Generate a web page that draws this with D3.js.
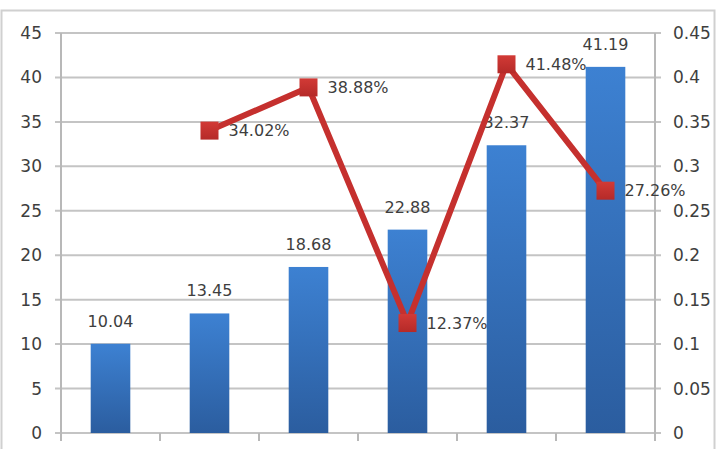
<!DOCTYPE html>
<html>
<head>
<meta charset="utf-8">
<script src="https://cdn.jsdelivr.net/npm/d3@7"></script>
<style>
  html, body { margin: 0; padding: 0; background: #fff; }
  svg { display: block; }
</style>
</head>
<body>
<svg id="chart" width="720" height="449"></svg>
<script>
// Data
const categories = ['P1', 'P2', 'P3', 'P4', 'P5', 'P6'];
const barValues  = [10.04, 13.45, 18.68, 22.88, 32.37, 41.19];
const rateValues = [null, 0.3402, 0.3888, 0.1237, 0.4148, 0.2726];
const leftTicks  = [0, 5, 10, 15, 20, 25, 30, 35, 40, 45];
const rightTicks = [0, 0.05, 0.1, 0.15, 0.2, 0.25, 0.3, 0.35, 0.4, 0.45];

const theme = {
  font: '"DejaVu Sans", sans-serif',
  text: '#3e3e3e',
  grid: '#c4c4c4',
  axis: '#b8b8b8',
  frame: '#d0d0d0',
  line: '#c5302e',
  marker: '#c72f2d'
};

const svg = d3.select('#chart');
const M = { left: 61, right: 65, top: 33, bottom: 16 };
const W = 720 - M.left - M.right;   // plot width
const H = 449 - M.top - M.bottom;   // plot height

// outer frame
svg.append('rect')
  .attr('x', 1.5).attr('y', 10.5)
  .attr('width', 713).attr('height', 470)
  .attr('fill', 'none')
  .attr('stroke', theme.frame)
  .attr('stroke-width', 2);

const defs = svg.append('defs');
const grad = defs.append('linearGradient')
  .attr('id', 'barGrad').attr('x1', 0).attr('y1', 0).attr('x2', 0).attr('y2', 1);
grad.append('stop').attr('offset', '0%').attr('stop-color', '#3d81d2');
grad.append('stop').attr('offset', '100%').attr('stop-color', '#2b5d9f');

const mgrad = defs.append('linearGradient')
  .attr('id', 'mkGrad').attr('x1', 0).attr('y1', 0).attr('x2', 0).attr('y2', 1);
mgrad.append('stop').attr('offset', '0%').attr('stop-color', '#d23a36');
mgrad.append('stop').attr('offset', '100%').attr('stop-color', '#b52a28');

const g = svg.append('g').attr('transform', `translate(${M.left},${M.top})`);

// scales
const x = d3.scaleBand().domain(categories).range([0, W]).paddingInner(0.6).paddingOuter(0.3);
const xStep = d3.scaleBand().domain(categories).range([0, W]).padding(0);
const y = d3.scaleLinear().domain([0, 45]).range([H, 0]);
const y2 = d3.scaleLinear().domain([0, 0.45]).range([H, 0]);

// grid lines (with small outside ticks on both sides)
g.append('g')
  .selectAll('line')
  .data(leftTicks)
  .join('line')
  .attr('x1', -6).attr('x2', W + 6)
  .attr('y1', d => y(d)).attr('y2', d => y(d))
  .attr('stroke', theme.grid)
  .attr('stroke-width', 2);

// left axis
g.append('g')
  .call(d3.axisLeft(y).tickValues(leftTicks).tickSize(0).tickPadding(19).tickFormat(d3.format('d')))
  .call(sel => {
    sel.select('.domain').remove();
    sel.selectAll('text')
      .attr('fill', theme.text)
      .style('font-family', theme.font)
      .style('font-size', '17px');
  });

// right axis
g.append('g')
  .attr('transform', `translate(${W},0)`)
  .call(d3.axisRight(y2).tickValues(rightTicks).tickSize(0).tickPadding(18).tickFormat(d => d === 0 ? '0' : String(+d.toFixed(2))))
  .call(sel => {
    sel.select('.domain').remove();
    sel.selectAll('text')
      .attr('fill', theme.text)
      .style('font-family', theme.font)
      .style('font-size', '17px');
  });

// vertical axis lines
g.append('line')
  .attr('x1', 0).attr('x2', 0).attr('y1', 0).attr('y2', H + 8)
  .attr('stroke', theme.axis).attr('stroke-width', 2);
g.append('line')
  .attr('x1', W).attr('x2', W).attr('y1', 0).attr('y2', H + 8)
  .attr('stroke', theme.axis).attr('stroke-width', 2);

// category ticks along the baseline
g.append('g')
  .selectAll('line')
  .data(categories.slice(1))
  .join('line')
  .attr('x1', d => xStep(d)).attr('x2', d => xStep(d))
  .attr('y1', H).attr('y2', H + 8)
  .attr('stroke', theme.axis).attr('stroke-width', 2);

// bars
g.append('g')
  .selectAll('rect')
  .data(barValues)
  .join('rect')
  .attr('x', (d, i) => x(categories[i]))
  .attr('y', d => y(d))
  .attr('width', x.bandwidth())
  .attr('height', d => H - y(d))
  .attr('fill', 'url(#barGrad)');

// bar labels
g.append('g')
  .selectAll('text')
  .data(barValues)
  .join('text')
  .attr('x', (d, i) => x(categories[i]) + x.bandwidth() / 2)
  .attr('y', d => y(d) - 17)
  .attr('text-anchor', 'middle')
  .attr('fill', theme.text)
  .style('font-family', theme.font)
  .style('font-size', '16px')
  .text(d => d.toFixed(2));

// line series
const pts = rateValues
  .map((v, i) => ({ v, cx: x(categories[i]) + x.bandwidth() / 2 }))
  .filter(d => d.v != null);

g.append('path')
  .datum(pts)
  .attr('fill', 'none')
  .attr('stroke', theme.line)
  .attr('stroke-width', 6)
  .attr('stroke-linejoin', 'miter')
  .attr('d', d3.line().x(d => d.cx).y(d => y2(d.v)));

const ms = 18;
g.append('g')
  .selectAll('rect')
  .data(pts)
  .join('rect')
  .attr('x', d => d.cx - ms / 2)
  .attr('y', d => y2(d.v) - ms / 2)
  .attr('width', ms).attr('height', ms)
  .attr('fill', 'url(#mkGrad)');

g.append('g')
  .selectAll('text')
  .data(pts)
  .join('text')
  .attr('x', d => d.cx + 19)
  .attr('y', d => y2(d.v))
  .attr('dy', '0.35em')
  .attr('fill', theme.text)
  .style('font-family', theme.font)
  .style('font-size', '16px')
  .text(d => (d.v * 100).toFixed(2) + '%');
</script>
</body>
</html>
